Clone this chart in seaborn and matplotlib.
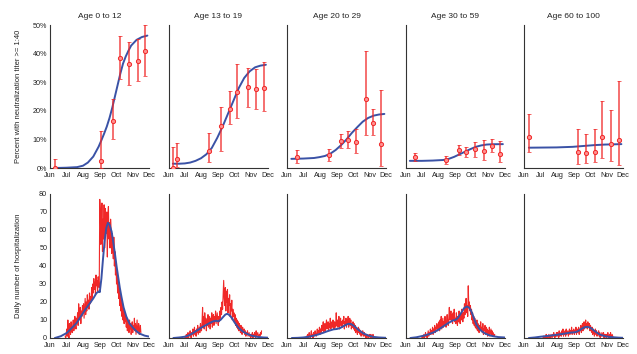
import numpy as np
import pandas as pd
import matplotlib
matplotlib.use("Agg")
import matplotlib.pyplot as plt
import seaborn as sns

# ---------------- data ----------------
age_groups = ["Age 0 to 12", "Age 13 to 19", "Age 20 to 29", "Age 30 to 59", "Age 60 to 100"]
month_days = [0, 30, 61, 92, 122, 153, 183]          # days since Jun 1
month_labels = ["Jun", "Jul", "Aug", "Sep", "Oct", "Nov", "Dec"]

# --- serology (top row): observed points with error bars ---
sero_days_1 = [9, 95, 116, 129, 146, 163, 175]
sero_val_1 = [0.0, 2.5, 16.5, 38.5, 36.5, 37.5, 41.0]
sero_lo_1 = [0.0, 0.0, 10.0, 31.0, 29.0, 30.5, 32.0]
sero_hi_1 = [3.0, 13.0, 24.0, 46.0, 44.0, 45.0, 50.0]

sero_days_2 = [8, 16, 74, 97, 113, 127, 147, 161, 176]
sero_val_2 = [0.0, 3.0, 6.0, 14.6, 20.8, 26.4, 28.3, 27.5, 28.0]
sero_lo_2 = [0.0, 0.2, 2.0, 6.0, 15.5, 17.5, 21.5, 20.5, 20.0]
sero_hi_2 = [7.5, 8.8, 12.2, 21.3, 26.8, 36.5, 35.0, 34.5, 37.0]

sero_days_3 = [18, 77, 100, 112, 128, 146, 159, 174]
sero_val_3 = [3.9, 4.4, 9.5, 9.9, 9.1, 24.3, 15.8, 8.3]
sero_lo_3 = [1.8, 2.5, 7.0, 7.0, 5.3, 11.7, 11.4, 0.8]
sero_hi_3 = [6.2, 6.5, 12.0, 13.0, 13.8, 41.0, 20.8, 27.2]

sero_days_4 = [18, 74, 98, 111, 128, 145, 159, 174]
sero_val_4 = [3.9, 2.7, 6.2, 5.6, 6.5, 6.0, 7.7, 5.0]
sero_lo_4 = [2.5, 1.5, 4.5, 4.0, 3.9, 2.9, 5.6, 2.1]
sero_hi_4 = [5.4, 4.2, 8.0, 7.5, 9.0, 9.8, 10.2, 9.5]

sero_days_5 = [9, 100, 115, 131, 144, 160, 175]
sero_val_5 = [10.9, 5.6, 5.4, 5.6, 10.9, 8.5, 9.7]
sero_lo_5 = [5.6, 1.5, 1.8, 2.0, 3.6, 2.3, 1.2]
sero_hi_5 = [18.8, 13.6, 12.0, 13.6, 23.4, 20.2, 30.5]

# --- serology fitted curves ---
fit_days_1 = [9, 30, 50, 61, 70, 80, 90, 95, 100, 105, 110, 115, 120, 125, 130, 135, 140, 145, 150, 160, 170, 180]
fit_val_1 = [0.0, 0.1, 0.3, 0.8, 1.9, 4.0, 7.5, 9.7, 12.0, 14.5, 17.5, 21.0, 25.0, 29.0, 33.0, 36.5, 39.0, 41.0, 42.8, 44.8, 45.8, 46.3]

fit_days_2 = [8, 20, 30, 40, 50, 60, 70, 80, 90, 100, 110, 120, 130, 140, 150, 160, 170, 180]
fit_val_2 = [1.5, 1.5, 1.6, 1.9, 2.5, 3.4, 4.8, 7.0, 10.5, 14.5, 19.0, 23.5, 28.0, 31.5, 33.8, 35.2, 35.8, 36.1]

fit_days_3 = [8, 30, 50, 60, 70, 80, 90, 100, 110, 120, 130, 140, 150, 160, 170, 180]
fit_val_3 = [3.2, 3.3, 3.5, 3.8, 4.2, 5.0, 6.3, 8.0, 10.0, 12.3, 14.3, 16.2, 17.5, 18.3, 18.7, 18.9]

fit_days_4 = [8, 30, 50, 70, 80, 90, 100, 110, 120, 130, 140, 150, 160, 180]
fit_val_4 = [2.5, 2.5, 2.6, 2.8, 3.2, 3.9, 4.8, 5.7, 6.6, 7.4, 7.9, 8.2, 8.3, 8.35]

fit_days_5 = [9, 60, 90, 110, 130, 150, 180]
fit_val_5 = [7.1, 7.2, 7.4, 7.7, 8.0, 8.2, 8.35]

# --- daily hospitalizations (bottom row), observed ---
hosp_start_1 = 28
hosp_obs_1 = [1, 0, 2, 5, 1, 10, 3, 0, 8, 4, 2, 9, 5,
              3, 7, 10, 4, 6, 12, 8, 5, 11, 9, 14, 7, 19, 10, 13, 17, 8, 15, 12, 18,
              14, 19, 11, 17, 22, 13, 20, 15, 24, 18, 21, 16, 25, 19, 23, 20, 28, 22, 30, 25, 33, 27, 31, 24, 35, 29, 32, 26, 34, 30, 28,
              77, 70, 52, 60, 75, 48, 66, 55, 74, 50, 72, 62, 58, 70, 45, 68, 73, 55, 64, 50, 66, 60, 47, 58, 52, 44, 56, 40, 48, 35,
              42, 30, 36, 25, 33, 22, 28, 18, 24, 15, 21, 12, 19, 10, 16, 8, 14, 9, 12,
              6, 11, 4, 9, 7, 3, 10, 5, 8, 2, 6, 9, 3, 7, 5, 11, 4, 8, 2, 6, 10, 3, 5, 8, 2, 4, 7, 3]

hosp_start_2 = 30
hosp_obs_2 = [0, 1, 0, 2, 0, 1, 3, 0, 1, 2, 4, 1, 0, 3, 2, 5, 1, 3, 6, 2, 4, 1, 5, 3, 7, 2, 4, 6, 3, 8, 5,
              4, 9, 17, 6, 12, 5, 14, 8, 11, 4, 10, 7, 13, 6, 9, 12, 5, 11, 8, 14, 6, 10, 13, 7, 12, 9, 15, 8, 11, 14, 10,
              7, 12, 9, 15, 11, 17, 13, 20, 16, 24, 32, 22, 18, 28, 15, 26, 20, 27, 14, 22, 18, 24, 12, 19, 15, 21, 10, 16, 12, 14,
              9, 13, 7, 11, 6, 10, 5, 9, 4, 8, 6, 3, 7, 5, 2, 6, 4, 3, 5, 2, 4, 1, 3, 2, 4, 1, 2, 3, 1, 2, 0,
              2, 1, 3, 0, 2, 1, 3, 2, 0, 4, 1, 2, 3, 1, 0, 2, 1, 3, 2, 4]

hosp_start_3 = 35
hosp_obs_3 = [0, 1, 0, 2, 0, 1, 3, 1, 0, 2, 4, 1, 2, 0, 3, 1, 2, 4, 2, 1, 3, 5, 2, 4, 3, 6,
              2, 5, 3, 7, 4, 6, 9, 3, 5, 8, 4, 7, 10, 5, 6, 9, 4, 8, 6, 11, 5, 7, 9, 6, 10, 7, 5, 9, 8, 6, 14,
              7, 10, 6, 9, 12, 5, 8, 11, 7, 9, 6, 10, 8, 12, 5, 9, 7, 11, 6, 10, 8, 12, 6, 9, 11, 7, 10, 5, 8, 6,
              9, 5, 8, 4, 7, 3, 6, 5, 2, 4, 6, 3, 5, 2, 4, 1, 3, 2, 4, 1, 2, 3, 1, 2, 0, 1, 2, 1, 0, 1, 2,
              1, 0, 2, 1, 0, 1, 2, 0]

hosp_start_4 = 30
hosp_obs_4 = [0, 1, 0, 1, 2, 0, 1, 3, 1, 2, 0, 2, 4, 1, 3, 2, 5, 2, 4, 3, 6, 2, 5, 4, 7, 3, 6, 5, 8, 4, 7,
              5, 9, 4, 10, 6, 12, 5, 8, 11, 6, 9, 7, 12, 8, 6, 10, 13, 9, 7, 11, 17, 10, 12, 15, 9, 13, 8, 14, 10, 16, 9,
              11, 8, 14, 10, 7, 12, 9, 15, 11, 8, 13, 10, 16, 12, 9, 14, 11, 19, 13, 16, 22, 14, 18, 12, 29, 17, 20, 15, 18, 13,
              16, 10, 14, 8, 12, 7, 11, 6, 9, 5, 10, 4, 8, 6, 3, 7, 5, 9, 4, 6, 3, 8, 2, 5, 4, 7, 2, 6, 3, 5, 1,
              4, 2, 6, 1, 3, 5, 2, 4, 1, 3, 2, 1, 2]

hosp_start_5 = 35
hosp_obs_5 = [0, 1, 0, 0, 1, 0, 2, 0, 1, 0, 1, 2, 0, 1, 0, 2, 1, 0, 2, 1, 3, 1, 0, 2, 1, 3,
              1, 3, 2, 0, 4, 1, 2, 3, 1, 4, 2, 5, 1, 3, 2, 4, 1, 5, 2, 3, 4, 1, 3, 5, 2, 4, 3, 6, 2, 4, 3,
              5, 2, 4, 3, 6, 2, 5, 3, 4, 6, 2, 5, 4, 7, 3, 5, 8, 4, 6, 9, 5, 7, 10, 6, 8, 5, 9, 7, 6, 8,
              4, 7, 5, 3, 6, 2, 5, 4, 1, 3, 5, 2, 4, 1, 3, 2, 4, 1, 3, 0, 2, 1, 3, 2, 1, 3, 0, 2, 1, 2, 0,
              2, 1, 3, 0, 1, 2, 0, 3, 1, 0, 2, 1, 0]

# --- daily hospitalizations, model fit ---
hfit_days_1 = [9, 20, 31, 40, 49, 57, 65, 73, 80, 86, 91, 92, 95, 98, 101, 104, 107, 110, 114, 117, 120, 123, 126, 129, 132, 136, 141, 147, 154, 160, 166, 175, 183]
hfit_val_1 = [0, 1, 2.8, 5.5, 8.3, 12, 15.7, 19, 22, 25, 26, 25.5, 33, 44, 54, 61, 64, 63, 59, 53, 47, 40, 34, 28, 23, 17, 12, 8, 5.5, 3.7, 2.4, 1.3, 0.8]

hfit_days_2 = [9, 20, 30, 38, 45, 53, 61, 68, 76, 82, 88, 92, 96, 101, 105, 108, 111, 115, 119, 122, 127, 131, 137, 143, 149, 155, 165, 175, 183]
hfit_val_2 = [0, 0.3, 0.7, 1.5, 2.7, 4.2, 5.8, 7, 8.3, 9.2, 9.6, 9.3, 10, 11.7, 13, 13.4, 13.1, 11.9, 10.2, 8.7, 6.6, 5.2, 3.7, 2.6, 1.8, 1.2, 0.6, 0.3, 0.2]

hfit_days_3 = [9, 20, 30, 40, 48, 57, 66, 76, 86, 92, 98, 104, 110, 114, 118, 122, 127, 133, 141, 150, 160, 170, 183]
hfit_val_3 = [0, 0.1, 0.3, 0.7, 1.2, 1.9, 2.8, 3.9, 4.8, 5.0, 5.5, 6.5, 7.5, 7.9, 7.8, 7.1, 5.9, 4.3, 2.6, 1.4, 0.6, 0.3, 0.1]

hfit_days_4 = [9, 20, 34, 43, 52, 61, 70, 79, 88, 92, 97, 103, 108, 113, 117, 121, 126, 131, 136, 140, 146, 154, 162, 172, 183]
hfit_val_4 = [0, 0.4, 1.3, 2.1, 3.1, 4.6, 6.5, 8.3, 9.8, 10, 11.2, 14, 16.5, 17.5, 17, 15.3, 11.5, 7.5, 5.2, 4, 2.7, 1.6, 1, 0.5, 0.3]

hfit_days_5 = [9, 20, 30, 45, 61, 76, 86, 91, 96, 101, 107, 113, 118, 124, 130, 136, 141, 150, 158, 166, 175, 183]
hfit_val_5 = [0, 0.3, 0.7, 1.2, 1.8, 2.5, 3, 3.1, 3.3, 4, 5.2, 6.1, 6.2, 5.4, 4, 2.7, 1.8, 1, 0.6, 0.4, 0.2, 0.1]

# ---------------- plotting ----------------
sns.set_theme(style="white")
plt.rcParams["font.family"] = ["Liberation Sans", "DejaVu Sans"]
plt.rcParams["axes.linewidth"] = 0.8

RED = "#f02828"
BLUE = "#3a52a6"
AXC = "#333333"

sero = [(sero_days_1, sero_val_1, sero_lo_1, sero_hi_1),
        (sero_days_2, sero_val_2, sero_lo_2, sero_hi_2),
        (sero_days_3, sero_val_3, sero_lo_3, sero_hi_3),
        (sero_days_4, sero_val_4, sero_lo_4, sero_hi_4),
        (sero_days_5, sero_val_5, sero_lo_5, sero_hi_5)]
fits = [(fit_days_1, fit_val_1), (fit_days_2, fit_val_2), (fit_days_3, fit_val_3),
        (fit_days_4, fit_val_4), (fit_days_5, fit_val_5)]
hosp = [(hosp_start_1, hosp_obs_1), (hosp_start_2, hosp_obs_2), (hosp_start_3, hosp_obs_3),
        (hosp_start_4, hosp_obs_4), (hosp_start_5, hosp_obs_5)]
hfits = [(hfit_days_1, hfit_val_1), (hfit_days_2, hfit_val_2), (hfit_days_3, hfit_val_3),
         (hfit_days_4, hfit_val_4), (hfit_days_5, hfit_val_5)]

fig = plt.figure(figsize=(6.37, 3.54), dpi=100)
W, H = 637.0, 354.0
left0, step, width = 50 / W, 118.5 / W, 99 / W
top_bottom, top_height = 1 - 168 / H, 143 / H
bot_bottom, bot_height = 1 - 338 / H, 144 / H

FS = 5.2


def style_axis(ax):
    for s in ["top", "right"]:
        ax.spines[s].set_visible(False)
    for s in ["left", "bottom"]:
        ax.spines[s].set_color(AXC)
        ax.spines[s].set_linewidth(0.8)
    ax.set_xlim(month_days[0], month_days[-1])
    ax.set_xticks(month_days)
    ax.set_xticklabels(month_labels)
    ax.tick_params(axis="both", direction="in", length=2, width=0.6, colors=AXC,
                   labelsize=FS, labelcolor="#222222")
    ax.tick_params(axis="x", pad=2.6)
    ax.tick_params(axis="y", pad=2.0)
    ax.set_xlabel("")
    ax.set_ylabel("")
    ax.grid(False)
    ax.set_facecolor("white")


for i in range(5):
    # ---- top row ----
    ax = fig.add_axes([left0 + i * step, top_bottom, width, top_height])
    fd, fv = fits[i]
    sns.lineplot(x=fd, y=fv, ax=ax, color=BLUE, linewidth=1.4, zorder=3)
    d, v, lo, hi = sero[i]
    v = np.array(v); lo = np.array(lo); hi = np.array(hi)
    ax.errorbar(d, v, yerr=[v - lo, hi - v], fmt="none", ecolor=RED, elinewidth=1.1,
                capsize=1.2, capthick=0.6, alpha=0.85, zorder=4)
    sns.scatterplot(x=d, y=v, ax=ax, marker="o", s=9, facecolor="#ff9090",
                    edgecolor=RED, linewidth=0.7, zorder=5)
    style_axis(ax)
    ax.set_ylim(0, 50)
    ax.set_yticks([0, 10, 20, 30, 40, 50])
    if i == 0:
        ax.set_yticklabels([f"{t}%" for t in [0, 10, 20, 30, 40, 50]])
        ax.set_ylabel("Percent with neutralization titer >= 1:40", fontsize=FS + 0.3,
                      color="#222222", labelpad=8)
    else:
        ax.set_yticklabels([])
    ax.set_title(age_groups[i], fontsize=FS + 0.8, color="#222222", pad=5)

    # ---- bottom row ----
    ax2 = fig.add_axes([left0 + i * step, bot_bottom, width, bot_height])
    start, obs = hosp[i]
    days = np.arange(start, start + len(obs))
    sns.lineplot(x=days, y=obs, ax=ax2, color=RED, linewidth=0.8, zorder=2)
    hd, hv = hfits[i]
    sns.lineplot(x=hd, y=hv, ax=ax2, color=BLUE, linewidth=1.4, zorder=3)
    style_axis(ax2)
    ax2.set_ylim(0, 80)
    ax2.set_yticks(list(range(0, 81, 10)))
    if i == 0:
        ax2.set_ylabel("Daily number of hospitalization", fontsize=FS + 0.3,
                       color="#222222", labelpad=12)
    else:
        ax2.set_yticklabels([])

fig.savefig("out.png", dpi=100, facecolor="white")
